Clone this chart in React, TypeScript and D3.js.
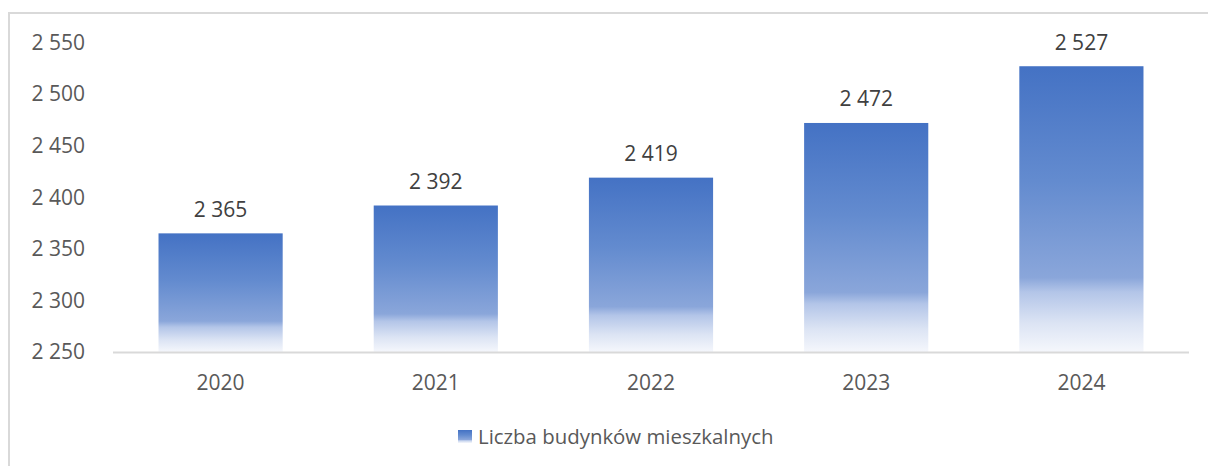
import { useRef, useEffect } from "react";
import * as d3 from "d3";

const years = ["2020", "2021", "2022", "2023", "2024"];
const buildings = [2365, 2392, 2419, 2472, 2527];
const yTicks = [2250, 2300, 2350, 2400, 2450, 2500, 2550];
const seriesName = "Liczba budynków mieszkalnych";

const W = 1208;
const H = 466;

const fmt = (v: number) => d3.format(",")(v).replace(/,/g, " ");

export default function App() {
  const svgRef = useRef<SVGSVGElement>(null);

  useEffect(() => {
    const svg = d3.select(svgRef.current).html(null);
    const font = "'Open Sans', sans-serif";

    const x = d3.scaleBand().domain(years).range([113, 1189]).paddingInner(0.423).paddingOuter(0.2115);
    const y = d3.scaleLinear().domain([2250, 2550]).range([352, 42.5]);

    const defs = svg.append("defs");
    const grad = defs.append("linearGradient")
      .attr("id", "barGrad")
      .attr("x1", "0").attr("x2", "0")
      .attr("y1", "0").attr("y2", "1");
    [
      [0, "#4472c4"],
      [0.4, "#638bcf"],
      [0.74, "#8aa6da"],
      [0.79, "#b3c5e8"],
      [0.9, "#dce4f4"],
      [1, "#f5f7fc"],
    ].forEach(([o, c]) => grad.append("stop").attr("offset", o as number).attr("stop-color", c as string));

    // frame
    svg.append("rect")
      .attr("x", 9).attr("y", 13)
      .attr("width", W + 20).attr("height", H + 20)
      .attr("fill", "white")
      .attr("stroke", "#d9d9d9")
      .attr("stroke-width", 2);

    // y labels
    svg.append("g")
      .selectAll("text")
      .data(yTicks)
      .join("text")
      .attr("x", 85)
      .attr("y", d => y(d))
      .attr("dy", "0.35em")
      .attr("text-anchor", "end")
      .attr("font-family", font)
      .attr("font-size", 21)
      .attr("fill", "#595959")
      .text(d => fmt(d));

    // bars
    svg.append("g")
      .selectAll("rect")
      .data(buildings)
      .join("rect")
      .attr("x", (d, i) => x(years[i])!)
      .attr("y", d => y(d))
      .attr("width", x.bandwidth())
      .attr("height", d => y(2250) - y(d))
      .attr("fill", "url(#barGrad)");

    // axis line
    svg.append("line")
      .attr("x1", 113).attr("x2", 1189)
      .attr("y1", y(2250) + 0.5).attr("y2", y(2250) + 0.5)
      .attr("stroke", "#d9d9d9")
      .attr("stroke-width", 2);

    // value labels
    svg.append("g")
      .selectAll("text")
      .data(buildings)
      .join("text")
      .attr("x", (d, i) => x(years[i])! + x.bandwidth() / 2)
      .attr("y", d => y(d) - 24)
      .attr("dy", "0.35em")
      .attr("text-anchor", "middle")
      .attr("font-family", font)
      .attr("font-size", 21)
      .attr("fill", "#404040")
      .text(d => fmt(d));

    // category labels
    svg.append("g")
      .selectAll("text")
      .data(years)
      .join("text")
      .attr("x", d => x(d)! + x.bandwidth() / 2)
      .attr("y", 383)
      .attr("dy", "0.35em")
      .attr("text-anchor", "middle")
      .attr("font-family", font)
      .attr("font-size", 21)
      .attr("fill", "#595959")
      .text(d => d);

    // legend
    const lg = svg.append("g");
    lg.append("rect")
      .attr("x", 458).attr("y", 430)
      .attr("width", 14).attr("height", 13)
      .attr("fill", "url(#barGrad)");
    lg.append("text")
      .attr("x", 478).attr("y", 437)
      .attr("dy", "0.35em")
      .attr("font-family", font)
      .attr("font-size", 20.4)
      .attr("fill", "#595959")
      .text(seriesName);
  }, []);

  return (
    <svg
      ref={svgRef}
      width={W}
      height={H}
      style={{ position: "absolute", left: 0, top: 0, background: "white" }}
    />
  );
}
